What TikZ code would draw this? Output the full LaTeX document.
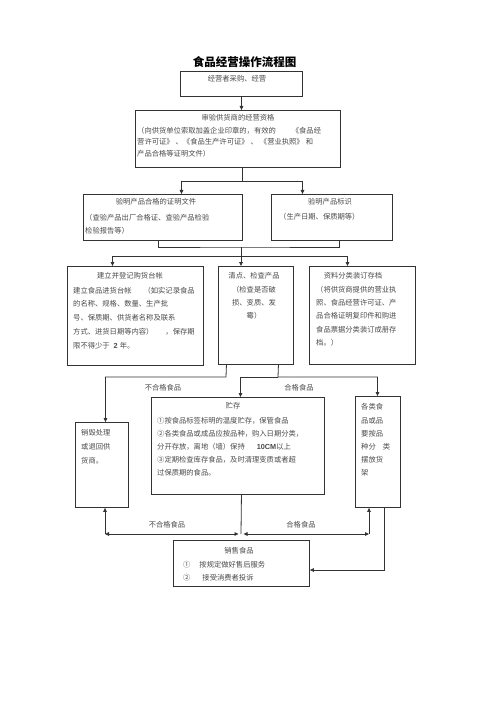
\documentclass[tikz,border=0pt]{standalone}
\usepackage{fontspec}
\newfontfamily\cjk{Noto Sans CJK SC}[Kerning=Off]
\newfontfamily\lat{Liberation Sans}
\usetikzlibrary{arrows.meta}
\definecolor{linec}{HTML}{333333}
\definecolor{textc}{HTML}{4A4A4A}
\tikzset{
  box/.style={draw=linec, line width=0.9pt, inner sep=0pt, anchor=north west},
  txt/.style={font=\cjk\fontsize{7.3}{13}\selectfont, text=textc, inner sep=0pt},
  body/.style={txt, align=left, anchor=north west},
  ln/.style={draw=linec, line width=0.8pt},
  arr/.style={ln, -{Triangle[length=4pt,width=3.6pt]}},
  darr/.style={ln, {Triangle[length=4pt,width=3.6pt]}-{Triangle[length=4pt,width=3.6pt]}}
}
\begin{document}
\begin{tikzpicture}[x=1pt,y=-1pt]
\useasboundingbox (0,0) rectangle (500,708);
\fill[white] (0,0) rectangle (500,708);

% title
\node[font=\cjk\bfseries\fontsize{11.5}{12}\selectfont, inner sep=0pt] (title) at (244.5,62) {食品经营操作流程图};

% boxes
\node[box, minimum width=122pt, minimum height=25pt] (b1) at (180,71) {};
\node[box, minimum width=205pt, minimum height=57pt] (b2) at (135,110) {};
\node[box, minimum width=159pt, minimum height=46pt] (b3) at (83,194) {};
\node[box, minimum width=121pt, minimum height=46pt] (b4) at (271,194) {};
\node[box, minimum width=136pt, minimum height=99pt] (b5) at (67,266) {};
\node[box, minimum width=75pt, minimum height=98pt] (b6) at (218,266) {};
\node[box, minimum width=106pt, minimum height=98pt] (b7) at (309,266) {};
\node[box, minimum width=53pt, minimum height=85pt] (b8) at (75,422) {};
\node[box, minimum width=173pt, minimum height=97pt] (b9) at (151,397) {};
\node[box, minimum width=45pt, minimum height=111pt] (b10) at (355,396) {};
\node[box, minimum width=136pt, minimum height=46pt] (b11) at (173,540) {};

% texts
\node[txt] (t1) at (237,79) {经营者采购、经营};

\node[txt] (t2a) at (238,118) {审验供货商的经营资格};
\node[body, font=\cjk\fontsize{7.3}{11.5}\selectfont] (t2b) at (137,126.6) {（向供货单位索取加盖企业印章的，有效的\hspace{16pt}《食品经\\营许可证》\hspace{2pt}、《食品生产许可证》\hspace{2pt}、\hspace{2pt}《营业执照》\hspace{2pt}和\\产品合格等证明文件）};

\node[txt] (t3a) at (156,202) {验明产品合格的证明文件};
\node[body] (t3b) at (85,213.6) {（查验产品出厂合格证、查验产品检验\\检验报告等）};

\node[txt] (t4a) at (330,202) {验明产品标识};
\node[txt, anchor=west] (t4b) at (279,217) {（生产日期、保质期等）};

\node[txt] (t5a) at (130,276) {建立并登记购货台帐};
\node[body, font=\cjk\fontsize{7.3}{13.8}\selectfont] (t5b) at (73,286.6) {建立食品进货台帐\hspace{12pt}（如实记录食品\\的名称、规格、数量、生产批\\号、保质期、供货者名称及联系\\方式、进货日期等内容）\hspace{12pt}，保存期\\限不得少于\hspace{4pt}{\lat\bfseries 2}\hspace{2pt}年。};

\node[txt, align=center, anchor=north, font=\cjk\fontsize{7.3}{13.3}\selectfont] (t6) at (254,272.6) {清点、检查产品\\（检查是否破\\损、变质、发\\霉）};

\node[txt] (t7a) at (353,276) {资料分类装订存档};
\node[body, font=\cjk\fontsize{7.3}{13.4}\selectfont] (t7b) at (316,285.6) {（将供货商提供的营业执\\照、食品经营许可证、产\\品合格证明复印件和购进\\食品票据分类装订成册存\\档。）};

\node[body, font=\cjk\fontsize{7.3}{14}\selectfont] (t8) at (81,429.6) {销毁处理\\或退回供\\货商。};

\node[txt] (t9a) at (233,406) {贮存};
\node[body] (t9b) at (157,417.6) {①按食品标签标明的温度贮存，保管食品\\②各类食品或成品应按品种，购入日期分类，\\分开存放，离地（墙）保持\hspace{12pt}{\lat\bfseries 10CM}以上\\③定期检查库存食品，及时清理变质或者超\\过保质期的食品。};

\node[body, font=\cjk\fontsize{7.3}{13.2}\selectfont] (t10) at (361,403.6) {各类食\\品或品\\要按品\\种分\hspace{7pt}类\\摆放货\\架};

\node[txt] (t11a) at (239,551) {销售食品};
\node[body] (t11b) at (183,561.6) {①\hspace{9pt}按规定做好售后服务\\②\hspace{12pt}接受消费者投诉};

% labels
\node[txt] (l1) at (163,388) {不合格食品};
\node[txt] (l2) at (299,388) {合格食品};
\node[txt] (l3) at (167,525) {不合格食品};
\node[txt] (l4) at (301,525) {合格食品};

% connectors
\draw[arr] (b1.south) -- (b1.south |- b2.north);

\coordinate (j1) at (242,181);
\draw[ln] (j1 |- b2.south) -- (j1);
\draw[arr] (j1) -| ([xshift=18.5pt]b3.north);
\draw[arr] (j1) -| ([xshift=-29.5pt]b4.north);

\coordinate (j2) at (241,247);
\coordinate (j3) at (241,256);
\draw[ln] ([xshift=-4.5pt]b3.south) |- (j2) -| ([xshift=7.5pt]b4.south);
\draw[ln] (j2) -- (j3);
\draw[arr] (j3) -| ([xshift=-23pt]b5.north);
\draw[arr] (j3) -- (j3 |- b6.north);
\draw[arr] (j3) -| ([xshift=-15pt]b7.north);

\coordinate (j4) at (226,377);
\coordinate (j5) at (278,377);
\draw[arr] ([xshift=-29.5pt]b6.south) -- (j4) -| ([xshift=3.5pt]b8.north);
\draw[arr] ([xshift=22.5pt]b6.south) -- (j5) -| ([xshift=-0.5pt]b10.north);
\draw[arr] (j5) -| ([xshift=2.5pt]b9.north);

\coordinate (j6) at (241,534);
\coordinate (j7) at (105,534);
\coordinate (j8) at (369,534);
\draw[ln] ([xshift=3.5pt]b9.south) -- (j6);
\draw[darr] (j7) -- ([xshift=-2.5pt]j6);
\draw[darr] ([xshift=2.5pt]j6) -- (j8);
\draw[arr] (j7) -- (j7 |- b8.south);
\draw[arr] (j8) -- (j8 |- b10.south);

\coordinate (j9) at (384,570);
\draw[arr] (j9 |- b10.south) -- (j9) -- (j9 -| b11.east);
\end{tikzpicture}
\end{document}
